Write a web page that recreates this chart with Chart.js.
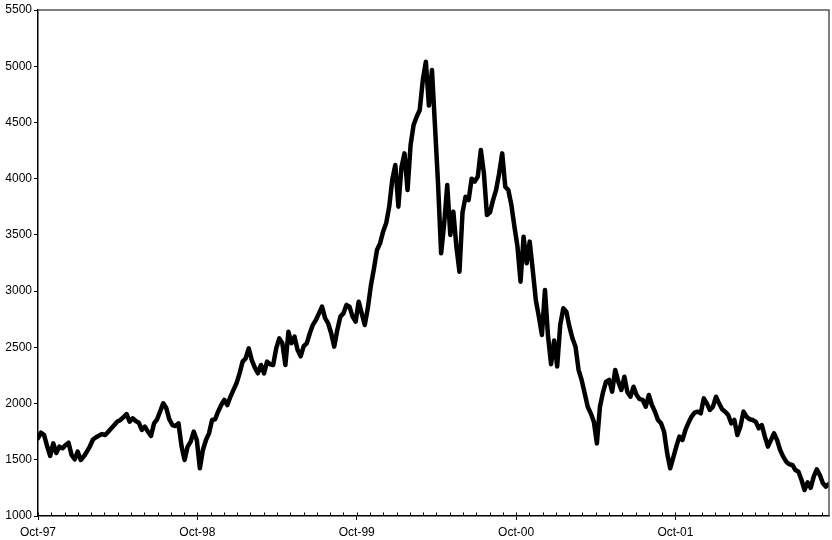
<!DOCTYPE html>
<html>
<head>
<meta charset="utf-8">
<script src="https://cdn.jsdelivr.net/npm/chart.js@4"></script>
<style>
  html, body { margin: 0; padding: 0; background: #fff; }
  #wrap { width: 832px; height: 540px; }
</style>
</head>
<body>
<div id="wrap"><canvas id="c" width="832" height="540"></canvas></div>
<script>
// Year tick labels (one every 12 months, starting Oct-97)
const tickLabels = ['Oct-97', 'Oct-98', 'Oct-99', 'Oct-00', 'Oct-01'];
// Weekly index values, starting early Oct 1997
const values = [
  1691, 1741, 1720, 1620, 1534, 1646, 1560, 1617, 1602, 1630,
  1652, 1543, 1504, 1572, 1498, 1530, 1572, 1620, 1680, 1700,
  1715, 1729, 1720, 1750, 1780, 1810, 1840, 1854, 1880, 1907,
  1839, 1869, 1845, 1830, 1765, 1795, 1750, 1712, 1824, 1860,
  1930, 2002, 1960, 1860, 1809, 1800, 1824, 1620, 1498, 1617,
  1661, 1750, 1676, 1424, 1587, 1676, 1735, 1854, 1860, 1930,
  1987, 2032, 1987, 2060, 2121, 2180, 2269, 2373, 2402, 2491,
  2387, 2320, 2269, 2343, 2269, 2373, 2350, 2343, 2491, 2580,
  2536, 2343, 2639, 2536, 2595, 2476, 2420, 2510, 2536, 2625,
  2700, 2743, 2802, 2862, 2760, 2714, 2625, 2506, 2654, 2773,
  2802, 2877, 2862, 2773, 2728, 2906, 2802, 2699, 2850, 3050,
  3200, 3366, 3425, 3529, 3603, 3751, 3990, 4121, 3751, 4100,
  4225, 3899, 4300, 4480, 4551, 4611, 4877, 5040, 4650, 4966,
  4462, 3950, 3336, 3600, 3944, 3500, 3707, 3395, 3173, 3700,
  3840, 3810, 4000, 3973, 4018, 4255, 4050, 3677, 3700, 3810,
  3900, 4047, 4225, 3929, 3899, 3766, 3573, 3395, 3084, 3484,
  3247, 3440, 3188, 2921, 2773, 2610, 3010, 2600, 2350, 2560,
  2330, 2700, 2847, 2817, 2684, 2580, 2506, 2300, 2210, 2091,
  1972, 1913, 1839, 1646, 1972, 2100, 2195, 2210, 2106, 2299,
  2195, 2121, 2239, 2100, 2061, 2150, 2076, 2040, 2032, 1972,
  2076, 1987, 1930, 1854, 1824, 1750, 1560, 1424, 1520, 1617,
  1706, 1676, 1765, 1830, 1884, 1920, 1928, 1913, 2046, 2002,
  1943, 1972, 2061, 2002, 1950, 1928, 1898, 1824, 1854, 1720,
  1795, 1928, 1883, 1860, 1854, 1839, 1780, 1809, 1706, 1617,
  1676, 1735, 1676, 1587, 1528, 1483, 1460, 1454, 1409, 1394,
  1320, 1231, 1300, 1250, 1350, 1415, 1365, 1291, 1261, 1285
];
const yTicks = [1000, 1500, 2000, 2500, 3000, 3500, 4000, 4500, 5000, 5500];

const WEEKS_PER_YEAR = 52.18;
const points = values.map((v, i) => ({ x: i * 12 / WEEKS_PER_YEAR, y: v }));
const xMax = (values.length - 1) * 12 / WEEKS_PER_YEAR;
const monthCount = Math.floor(xMax) + 1;

const FONT = '"Liberation Sans", Arial, Helvetica, sans-serif';

const framePlugin = {
  id: 'frame',
  afterDraw(chart) {
    const { ctx, chartArea: a, scales } = chart;
    ctx.save();
    ctx.strokeStyle = '#555';
    ctx.lineWidth = 1.5;
    ctx.beginPath();
    ctx.moveTo(a.left, a.top);
    ctx.lineTo(a.right, a.top);
    ctx.lineTo(a.right, a.bottom);
    ctx.stroke();
    ctx.strokeStyle = '#000';
    ctx.lineWidth = 1;
    const xs = scales.x;
    for (let m = 0; m < monthCount; m++) {
      const px = Math.round(xs.getPixelForValue(m)) + 0.5;
      ctx.beginPath();
      ctx.moveTo(px, a.bottom);
      ctx.lineTo(px, a.bottom - 3.5);
      ctx.stroke();
    }
    ctx.restore();
  }
};

new Chart(document.getElementById('c'), {
  type: 'line',
  data: {
    datasets: [{
      data: points,
      borderColor: '#000',
      borderWidth: 4.5,
      pointRadius: 0,
      tension: 0,
      fill: false,
      borderJoinStyle: 'round',
      borderCapStyle: 'round'
    }]
  },
  options: {
    responsive: false,
    animation: false,
    devicePixelRatio: 1,
    layout: { padding: { top: 10, right: 3, left: 0, bottom: 0 } },
    plugins: { legend: { display: false }, tooltip: { enabled: false } },
    scales: {
      x: {
        type: 'linear',
        min: 0,
        max: xMax,
        afterBuildTicks(scale) {
          scale.ticks = Array.from({ length: monthCount }, (_, m) => ({ value: m }));
        },
        afterFit(scale) { scale.height = 24; },
        ticks: {
          autoSkip: false,
          maxRotation: 0,
          minRotation: 0,
          padding: 5,
          color: '#000',
          font: { family: FONT, size: 12 },
          callback: (v) => (v % 12 === 0 ? tickLabels[v / 12] : '')
        },
        grid: {
          drawOnChartArea: false,
          drawTicks: true,
          tickLength: 4,
          tickWidth: 1,
          tickColor: (c) => (c.tick && c.tick.value % 12 === 0 ? '#000' : 'rgba(0,0,0,0)')
        },
        border: { display: true, color: '#000', width: 1.5 }
      },
      y: {
        min: 1000,
        max: 5500,
        afterBuildTicks(scale) {
          scale.ticks = yTicks.map(v => ({ value: v }));
        },
        afterFit(scale) { scale.width = 38; },
        ticks: {
          padding: 2,
          color: '#000',
          font: { family: FONT, size: 12 },
          callback: (v) => String(v)
        },
        grid: {
          drawOnChartArea: false,
          drawTicks: true,
          tickLength: 4,
          tickWidth: 1,
          tickColor: '#000'
        },
        border: { display: true, color: '#000', width: 1.5 }
      }
    }
  },
  plugins: [framePlugin]
});
</script>
</body>
</html>
